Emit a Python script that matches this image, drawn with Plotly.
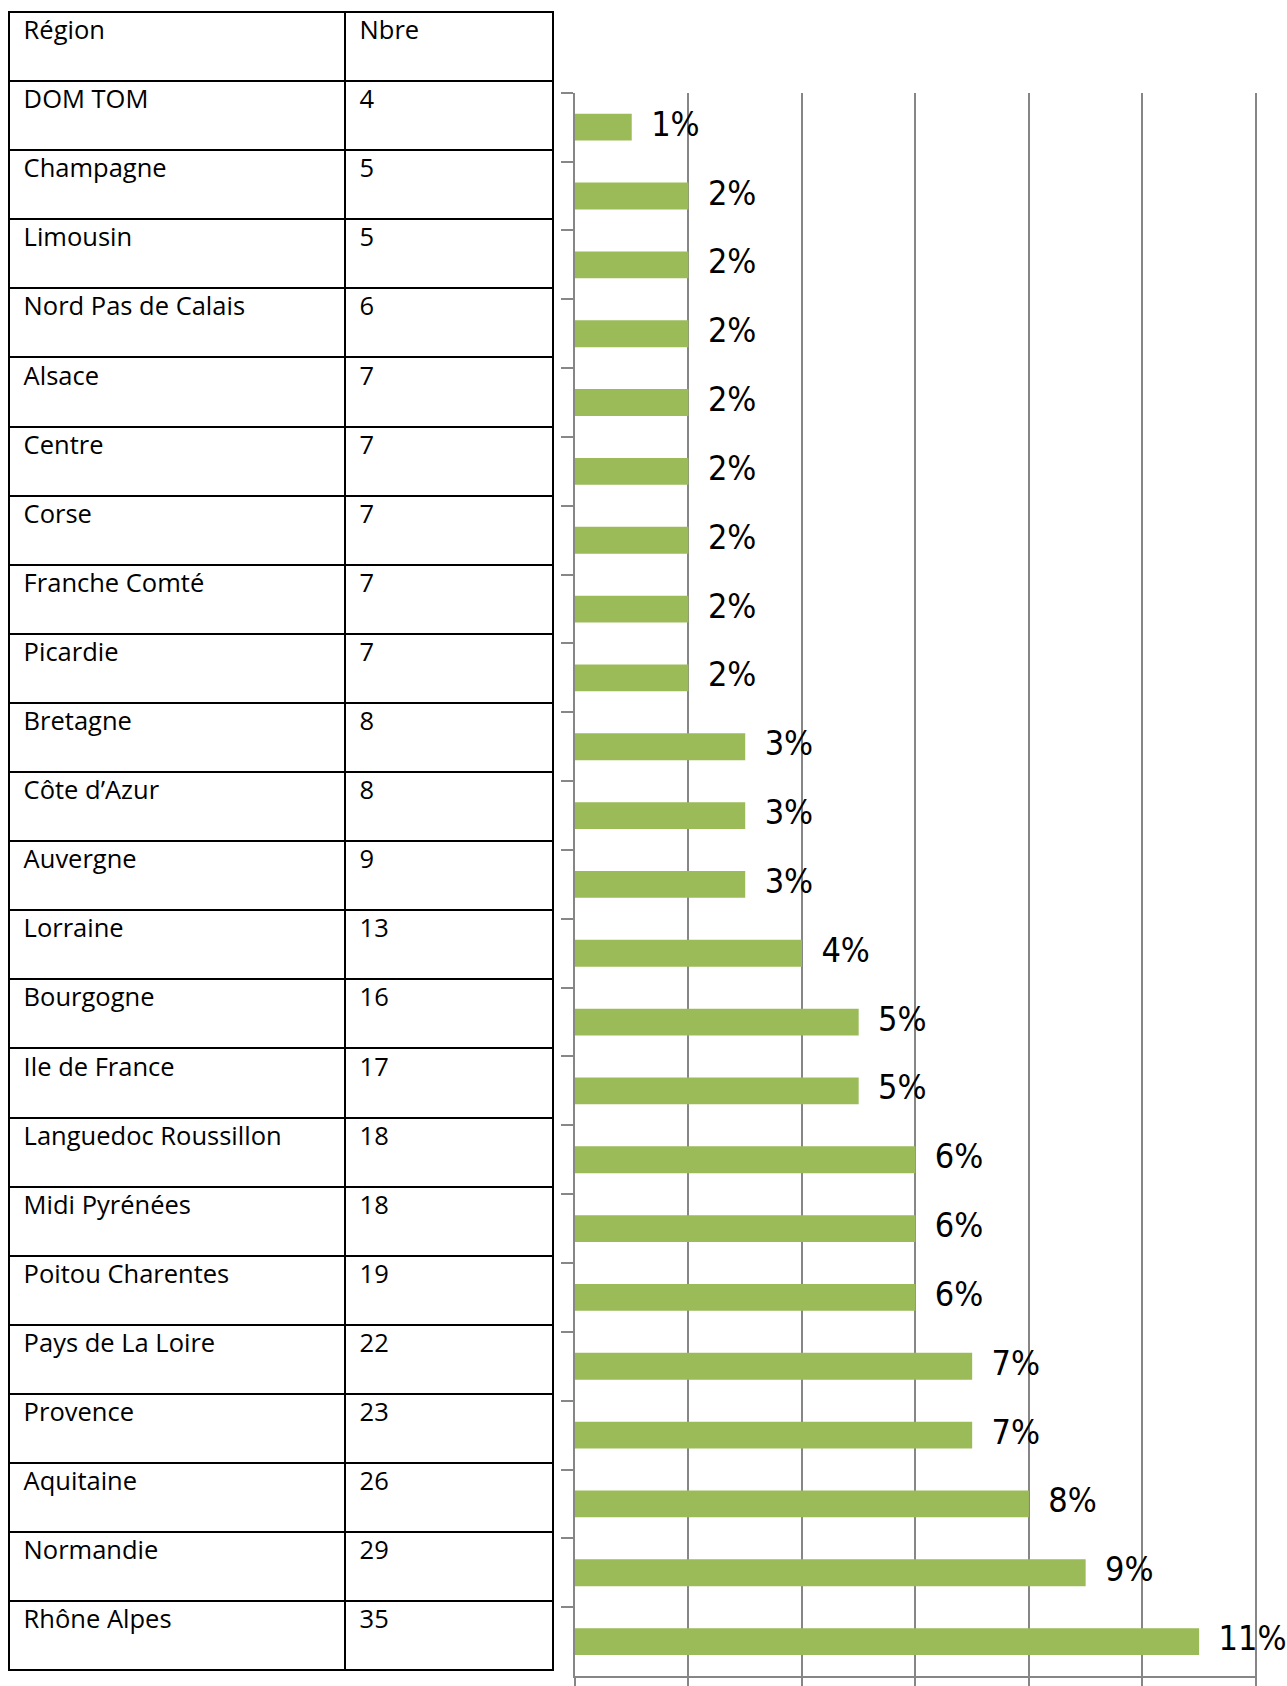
"""Répartition par région : tableau + barres horizontales."""
import plotly.graph_objects as go

regions = [
    "DOM TOM", "Champagne", "Limousin", "Nord Pas de Calais", "Alsace", "Centre",
    "Corse", "Franche Comté", "Picardie", "Bretagne", "Côte d’Azur", "Auvergne",
    "Lorraine", "Bourgogne", "Ile de France", "Languedoc Roussillon",
    "Midi Pyrénées", "Poitou Charentes", "Pays de La Loire", "Provence",
    "Aquitaine", "Normandie", "Rhône Alpes",
]
counts = [4, 5, 5, 6, 7, 7, 7, 7, 7, 8, 8, 9, 13, 16, 17, 18, 18, 19, 22, 23, 26, 29, 35]
# percentages as shown on the chart (rounded)
pct = [1, 2, 2, 2, 2, 2, 2, 2, 2, 3, 3, 3, 4, 5, 5, 6, 6, 6, 7, 7, 8, 9, 11]
pct_labels = [f"{p}%" for p in pct]

W, H = 1287, 1686
GRID = "#868686"
GREEN = "#9BBB59"
TABLE_FONT = dict(family="Open Sans", size=25.5, color="black")

fig = go.Figure()

# table on the left
fig.add_trace(go.Table(
    domain=dict(x=[9 / W, 553 / W], y=[1 - 1678 / H, 1 - 12 / H]),
    columnwidth=[336, 208],
    header=dict(
        values=[" Région", " Nbre"],
        height=69.1,
        align="left",
        fill_color="white",
        line=dict(color="black", width=2),
        font=TABLE_FONT,
    ),
    cells=dict(
        values=[[" " + r for r in regions], [f" {c}" for c in counts]],
        height=69.1,
        align="left",
        fill_color="white",
        line=dict(color="black", width=2),
        font=TABLE_FONT,
    ),
))

# bars
fig.add_trace(go.Bar(
    x=pct,
    y=regions,
    orientation="h",
    marker=dict(color=GREEN, line=dict(width=0)),
    width=0.39,
    hoverinfo="skip",
    showlegend=False,
))

# value labels to the right of each bar (on a twin axis nudged a few px down)
fig.add_trace(go.Scatter(
    x=pct,
    y=regions,
    yaxis="y2",
    mode="text",
    text=["  " + t for t in pct_labels],
    textposition="middle right",
    textfont=dict(family="Liberation Sans Narrow, DejaVu Sans Condensed", size=34, color="black"),
    cliponaxis=False,
    hoverinfo="skip",
    showlegend=False,
))

fig.update_xaxes(
    domain=[575 / W, 1257 / W],
    range=[0, 12.02],
    tickvals=[0, 2, 4, 6, 8, 10, 12],
    showgrid=True,
    gridcolor=GRID,
    gridwidth=2,
    zeroline=False,
    showline=True,
    linecolor=GRID,
    linewidth=2,
    ticks="outside",
    ticklen=10,
    tickwidth=2,
    tickcolor=GRID,
    showticklabels=False,
)
fig.update_yaxes(
    domain=[1 - 1680 / H, 1 - 93 / H],
    autorange=False,
    range=[len(regions) - 0.5, -0.5],
    type="category",
    tickson="boundaries",
    ticks="outside",
    ticklen=12,
    tickwidth=2,
    tickcolor=GRID,
    showgrid=False,
    showline=True,
    linecolor=GRID,
    linewidth=2,
    showticklabels=False,
    zeroline=False,
)

fig.update_layout(
    width=W,
    height=H,
    margin=dict(l=0, r=0, t=0, b=0),
    paper_bgcolor="white",
    plot_bgcolor="white",
    showlegend=False,
    yaxis2=dict(
        domain=[1 - 1685 / H, 1 - 98 / H],
        overlaying="y",
        anchor="x",
        autorange=False,
        range=[len(regions) - 0.5, -0.5],
        type="category",
        visible=False,
    ),
)

# the page body has a default 8px margin; drop it so the figure sits at 0,0
fig.write_html(
    "out.html",
    config={"displayModeBar": False},
    post_script="document.body.style.margin='0px';",
)
